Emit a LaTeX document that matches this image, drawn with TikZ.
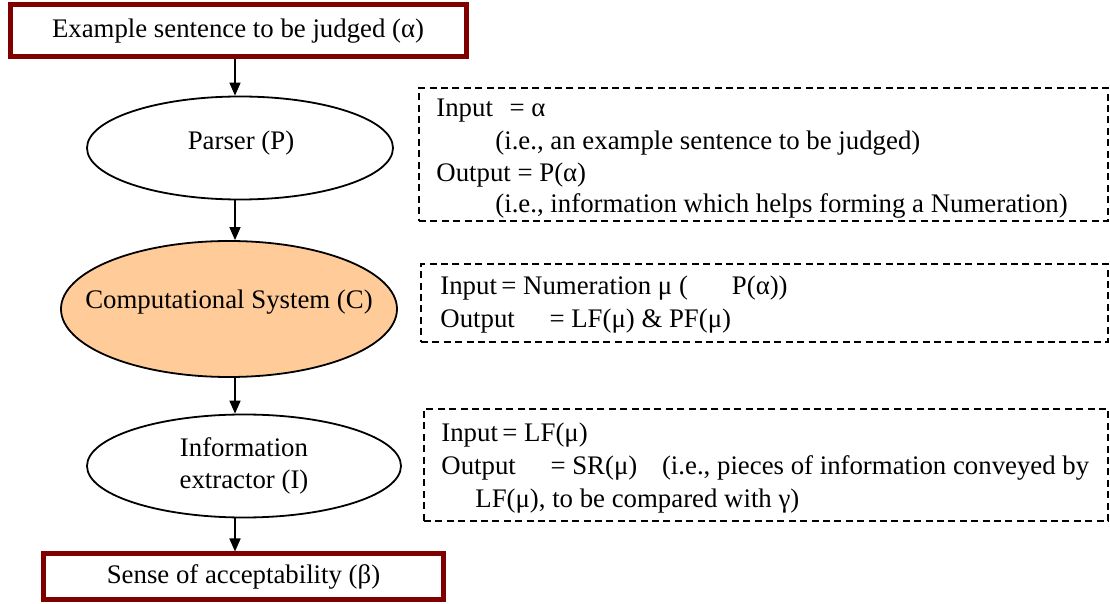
\documentclass[tikz,border=0pt]{standalone}
\usepackage{fontspec}
\setmainfont{Liberation Serif}
\usetikzlibrary{shapes.geometric,arrows.meta}
\definecolor{boxred}{HTML}{800000}
\definecolor{csfill}{HTML}{FFCC99}
\tikzset{
  txt/.style={font=\fontsize{13.4}{16.2}\selectfont, inner sep=0pt},
  endbox/.style={txt, draw=boxred, line width=2.5pt, rectangle, align=center},
  proc/.style={draw, line width=0.9pt, ellipse, inner sep=0pt},
  iobox/.style={draw, dash pattern=on 3.5pt off 2.2pt, line width=0.7pt, inner sep=0pt},
  line/.style={txt, anchor=west},
  arr/.style={-{Triangle[width=5.5pt,length=6.5pt]}, line width=0.8pt}
}
\begin{document}
\begin{tikzpicture}[x=0.5pt,y=-0.5pt]
  \useasboundingbox (0,0) rectangle (1110,604);
  \node[endbox, minimum width=228pt, minimum height=26pt] (sent) at (238,31) {Example sentence to be judged (α)};
  \node[proc, minimum width=153pt, minimum height=51.5pt] (pars) at (240,148) {};
  \node[txt] (parstxt) at (241,143) {Parser (P)};
  \node[proc, fill=csfill, minimum width=168pt, minimum height=68pt] (comp) at (229,309) {};
  \node[txt] (comptxt) at (229,302) {Computational System (C)};
  \node[proc, minimum width=157pt, minimum height=51.5pt] (info) at (244,466) {};
  \node[txt, align=center] (infotxt) at (244,466) {Information\\extractor (I)};
  \node[endbox, minimum width=200pt, minimum height=23pt] (sens) at (243.5,577) {Sense of acceptability (β)};

  \coordinate (spine) at (235,0);
  \draw[arr] (spine |- sent.south) -- (spine |- pars.north);
  \draw[arr] (spine |- pars.south) -- (spine |- comp.north);
  \draw[arr] (spine |- comp.south) -- (spine |- info.north);
  \draw[arr] (spine |- info.south) -- (spine |- sens.north);

  \node[iobox, minimum width=344.5pt, minimum height=66.5pt] (pio) at (763.5,154.5) {};
  \node[line] (pin) at (436,111) {Input\hspace{5pt} = α};
  \node[line] (pinx) at (495,143) {(i.e., an example sentence to be judged)};
  \node[line] (pout) at (436,175) {Output = P(α)};
  \node[line] (poutx) at (495,206) {(i.e., information which helps forming a Numeration)};

  \node[iobox, minimum width=343.5pt, minimum height=39pt] (cio) at (764.5,303) {};
  \node[line] (cin) at (440,288) {Input\,= Numeration μ (\hspace{22pt}P(α))};
  \node[line] (cout) at (440,321) {Output\hspace{14pt} = LF(μ) \& PF(μ)};

  \node[iobox, minimum width=342pt, minimum height=56pt] (iio) at (766,465) {};
  \node[line] (iin) at (441,435) {Input\,= LF(μ)};
  \node[line] (iout) at (441,468) {Output\hspace{14pt} = SR(μ)\hspace{9pt} (i.e., pieces of information conveyed by};
  \node[line] (ioutx) at (475,501) {LF(μ), to be compared with γ)};
\end{tikzpicture}
\end{document}
